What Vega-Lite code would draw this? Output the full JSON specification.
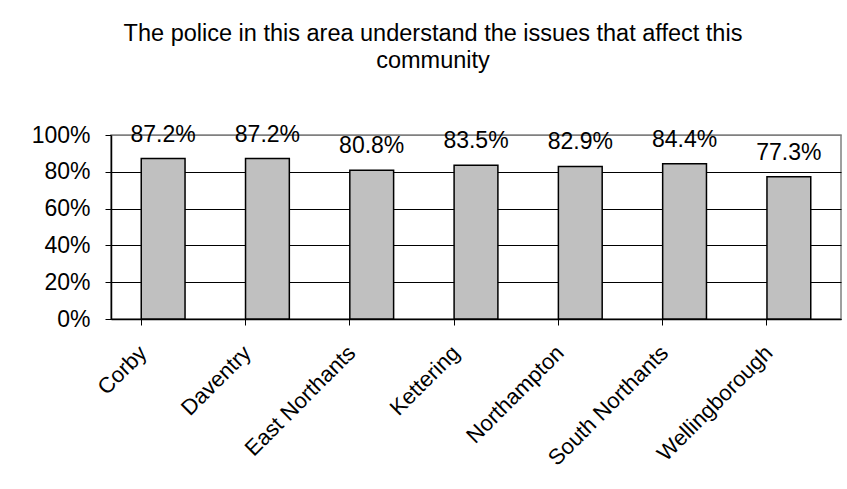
{
  "$schema": "https://vega.github.io/schema/vega-lite/v6.json",
  "width": 730,
  "height": 184,
  "autosize": {"type": "pad"},
  "padding": {"left": 31, "top": 22, "right": 5, "bottom": 5},
  "background": "white",
  "title": {
    "text": ["The police in this area understand the issues that affect this", "community"],
    "font": "Liberation Sans",
    "fontSize": 23.5,
    "fontWeight": "normal",
    "lineHeight": 27,
    "color": "black",
    "offset": 51,
    "dx": -43
  },
  "data": {
    "values": [
      {"area": "Corby", "value": 0.872},
      {"area": "Daventry", "value": 0.872},
      {"area": "East Northants", "value": 0.808},
      {"area": "Kettering", "value": 0.835},
      {"area": "Northampton", "value": 0.829},
      {"area": "South Northants", "value": 0.844},
      {"area": "Wellingborough", "value": 0.773}
    ]
  },
  "encoding": {
    "x": {
      "field": "area",
      "type": "nominal",
      "sort": null,
      "scale": {"paddingInner": 0.58, "paddingOuter": 0.29},
      "axis": {
        "title": null,
        "grid": false,
        "bandPosition": 0,
        "domainColor": "black",
        "domainWidth": 1.5,
        "tickColor": "black",
        "tickSize": 6,
        "tickWidth": 1,
        "labelAngle": -45,
        "labelAlign": "right",
        "labelBaseline": "middle",
        "labelOffset": -20,
        "labelPadding": 24,
        "labelFont": "Liberation Sans",
        "labelFontSize": 22,
        "labelColor": "black"
      }
    },
    "y": {
      "field": "value",
      "type": "quantitative",
      "scale": {"domain": [0, 1]},
      "axis": {
        "title": null,
        "values": [0, 0.2, 0.4, 0.6, 0.8, 1],
        "format": ".0%",
        "grid": true,
        "gridColor": {"condition": {"test": "datum.value == 1", "value": "#808080"}, "value": "black"},
        "gridWidth": 1,
        "domainColor": "black",
        "domainWidth": 1.5,
        "tickColor": "black",
        "tickSize": 6,
        "labelPadding": 15,
        "labelFont": "Liberation Sans",
        "labelFontSize": 23,
        "labelColor": "black"
      }
    }
  },
  "layer": [
    {"mark": {"type": "bar", "fill": "#C0C0C0", "stroke": "black", "strokeWidth": 1.5}},
    {
      "mark": {"type": "text", "baseline": "alphabetic", "dy": -17, "font": "Liberation Sans", "fontSize": 23, "color": "black"},
      "encoding": {"text": {"field": "value", "type": "quantitative", "format": ".1%"}}
    }
  ],
  "config": {"view": {"stroke": "#808080", "strokeWidth": 1.5}}
}
